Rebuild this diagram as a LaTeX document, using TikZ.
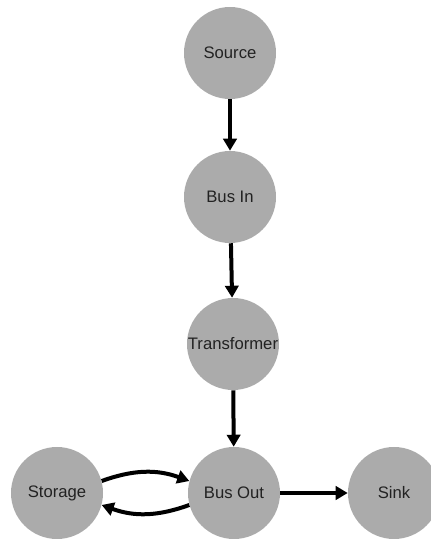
\documentclass[tikz,border=0pt]{standalone}
\usepackage{fontspec}
\setmainfont{Liberation Sans}
\usetikzlibrary{arrows.meta}
\definecolor{nodegray}{RGB}{171,171,171}
\definecolor{textgray}{RGB}{34,34,34}
\begin{document}
\begin{tikzpicture}[x=0.75pt,y=0.75pt,
    unit/.style={circle,fill=nodegray,minimum size=69pt,inner sep=0pt,
        text=textgray,font=\fontsize{12.5}{14}\selectfont},
    flow/.style={line width=3pt,-{Triangle[length=9pt,width=10pt]}}]
    \useasboundingbox (0,0) rectangle (430,540);
    \node[unit] (source) at (230,487) {Source};
    \node[unit] (busin) at (230,343) {Bus In};
    \node[unit] (transformer) at (233,196) {Transformer};
    \node[unit] (busout) at (234,47) {Bus Out};
    \node[unit] (storage) at (57,47) {Storage};
    \node[unit] (sink) at (394,47) {Sink};
    \draw[flow] (source) -- (busin);
    \draw[flow] (busin) -- (transformer);
    \draw[flow] (transformer) -- (busout);
    \draw[flow] (busout) -- (sink);
    \draw[flow] (storage.15) to[bend left=20] (busout.165);
    \draw[flow] (busout.195) to[bend left=20] (storage.-15);
\end{tikzpicture}
\end{document}
